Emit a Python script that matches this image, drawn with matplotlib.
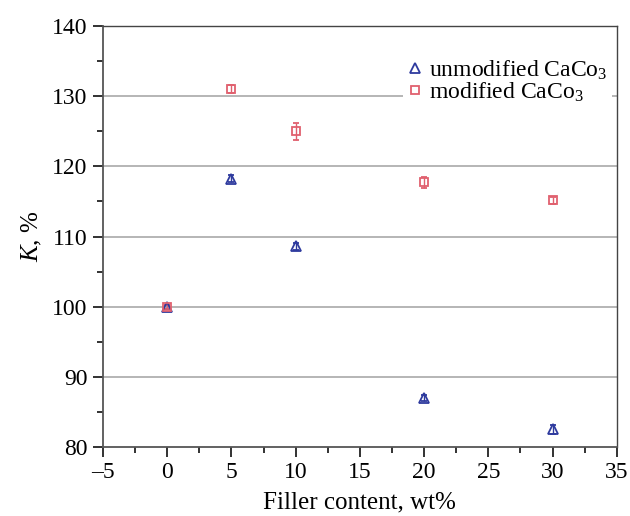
import numpy as np
import matplotlib
matplotlib.use("Agg")
import matplotlib.pyplot as plt
from matplotlib.ticker import MultipleLocator
from matplotlib.lines import Line2D

plt.rcParams['font.family'] = ['Liberation Serif', 'DejaVu Serif']
plt.rcParams['mathtext.fontset'] = 'custom'
plt.rcParams['mathtext.rm'] = 'Liberation Serif'
plt.rcParams['mathtext.it'] = 'Liberation Serif:italic'

filler = [0, 5, 10, 20, 30]
k_unmod = [100, 118.2, 108.6, 87.0, 82.5]
err_unmod = [0.3, 0.5, 0.5, 0.4, 0.6]
k_mod = [100, 131.0, 125.0, 117.7, 115.2]
err_mod = [0.3, 0.6, 1.2, 0.8, 0.5]

fig = plt.figure(figsize=(6.3, 5.16), dpi=100)
ax = fig.add_axes([0.1635, 0.1337, 0.8155, 0.8159])

blue = '#2e3a9e'
red = '#e0606e'

ax.errorbar(filler, k_unmod, yerr=err_unmod, fmt='^', mfc='none', mec=blue,
            ecolor=blue, ms=7, mew=1.3, capsize=2.5, elinewidth=1, zorder=3)
ax.errorbar(filler, k_mod, yerr=err_mod, fmt='s', mfc='none', mec=red,
            ecolor=red, ms=6, mew=1.3, capsize=2.5, elinewidth=1, zorder=3)

ax.set_xlim(-5, 35)
ax.set_ylim(80, 140)
ax.set_xticks(np.arange(-5, 36, 5))
ax.set_xticklabels(['\u20135', '0', '5', '10', '15', '20', '25', '30', '35'])
ax.xaxis.set_minor_locator(MultipleLocator(2.5))
ax.yaxis.set_major_locator(MultipleLocator(10))
ax.yaxis.set_minor_locator(MultipleLocator(5))

for yv in [90, 100, 110, 120, 130]:
    ax.axhline(yv, color='#b0b0b0', lw=1.3, zorder=1)

ax.tick_params(axis='both', which='major', direction='out', length=7,
               width=1.3, labelsize=17, color='#222222', pad=4)
ax.tick_params(axis='both', which='minor', direction='out', length=4,
               width=1.3, color='#222222')
for s in ['left', 'bottom']:
    ax.spines[s].set_linewidth(1.3)
    ax.spines[s].set_color('#555555')
for s in ['top', 'right']:
    ax.spines[s].set_linewidth(1.0)
    ax.spines[s].set_color('#444444')

ax.set_xlabel('Filler content, wt%', fontsize=18, labelpad=6)
ax.set_ylabel('$K$, %', fontsize=18, labelpad=6)

handles = [
    Line2D([], [], ls='none', marker='^', mfc='none', mec=blue, ms=7, mew=1.3),
    Line2D([], [], ls='none', marker='s', mfc='none', mec=red, ms=6, mew=1.3),
]
labels = ['unmodified CaCo$_3$', 'modified CaCo$_3$']
leg = ax.legend(handles, labels, loc='upper right', bbox_to_anchor=(1.0, 0.945),
                fontsize=17, frameon=True, framealpha=1, edgecolor='none',
                fancybox=False, handlelength=0.6, handletextpad=0.3,
                labelspacing=-0.05, borderpad=0.2, borderaxespad=0.2)
leg.set_zorder(5)

fig.savefig('out.png', dpi=100)
